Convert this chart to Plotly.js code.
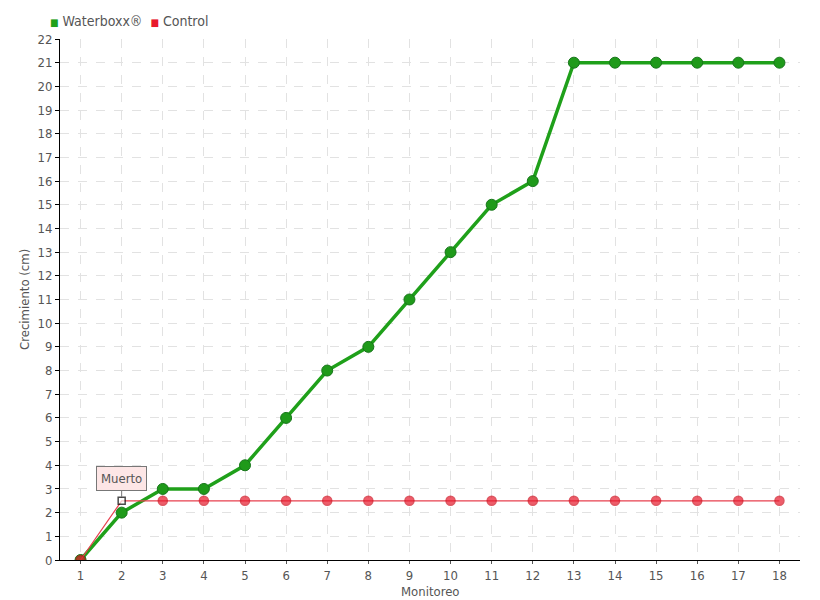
<!DOCTYPE html>
<html>
<head>
<meta charset="utf-8">
<script src="https://cdn.plot.ly/plotly-3.0.1.min.js"></script>
<style>body{margin:0;background:#fff}#chart{width:820px;height:600px}</style>
</head>
<body>
<div id="chart"></div>
<script>
const monitoreo = [1,2,3,4,5,6,7,8,9,10,11,12,13,14,15,16,17,18];
const waterboxx = [0,2,3,3,4,6,8,9,11,13,15,16,21,21,21,21,21,21];
const control = [0,2.5,2.5,2.5,2.5,2.5,2.5,2.5,2.5,2.5,2.5,2.5,2.5,2.5,2.5,2.5,2.5,2.5];
const yTicks = [0,1,2,3,4,5,6,7,8,9,10,11,12,13,14,15,16,17,18,19,20,21,22];
const seriesNames = ['Waterboxx®', 'Control'];
const annotText = "Muerto";
const annotIndex = 1;

const FONT = "'DejaVu Sans Condensed', 'Liberation Sans Narrow', sans-serif";
const GREEN = '#1fa01a', RED = '#e8192c';

const ctrlSymbols = control.map((v,i)=> i===annotIndex ? 'square' : 'circle');
const ctrlColors = control.map((v,i)=> i===annotIndex ? '#ffffff' : RED);
const ctrlLineColors = control.map((v,i)=> i===annotIndex ? '#000000' : '#d0101f');
const ctrlSizes = control.map((v,i)=> i===annotIndex ? 7 : 9);

const traces = [
  {
    x: monitoreo, y: waterboxx, name: seriesNames[0], type: 'scatter', mode: 'lines+markers', showlegend: false,
    line: {color: GREEN, width: 3.5},
    marker: {color: '#1f9a1a', size: 11, line: {color: '#17761a', width: 1}}
  },
  {
    x: monitoreo, y: control, name: seriesNames[1], type: 'scatter', mode: 'lines+markers', showlegend: false,
    line: {color: '#e8404f', width: 1.2},
    marker: {color: ctrlColors, size: ctrlSizes, symbol: ctrlSymbols, line: {color: ctrlLineColors, width: 1.5}}
  }
];

const layout = {
  width: 820, height: 600,
  margin: {l: 60, r: 20, t: 39, b: 40, autoexpand: false},
  paper_bgcolor: '#ffffff', plot_bgcolor: '#ffffff',
  font: {family: FONT, color: '#555555', size: 13},
  showlegend: false,
  xaxis: {
    range: [0.5, 18.5], tickvals: monitoreo, ticktext: monitoreo.map(String),
    showline: true, linecolor: '#000', linewidth: 1,
    ticks: 'outside', ticklen: 3, tickcolor: '#555',
    showgrid: true, gridcolor: '#e2e2e2', griddash: 'dash', gridwidth: 1,
    zeroline: false,
    tickfont: {family: FONT, size: 13, color: '#555'}
  },
  yaxis: {
    range: [0, 22], tickvals: yTicks,
    showline: true, linecolor: '#000', linewidth: 1,
    ticks: 'outside', ticklen: 4, tickcolor: '#000',
    showgrid: true, gridcolor: '#e2e2e2', griddash: 'dash', gridwidth: 1,
    zeroline: false,
    tickfont: {family: FONT, size: 13, color: '#555'}
  },
  annotations: [
    {
      x: monitoreo[annotIndex], y: control[annotIndex], xref: 'x', yref: 'y',
      text: annotText, showarrow: true, arrowhead: 0, arrowwidth: 1, arrowcolor: '#777',
      ax: 0, ay: -22, standoff: 4,
      bgcolor: '#fde6e6', bordercolor: '#777', borderwidth: 1, borderpad: 4,
      font: {family: FONT, size: 13, color: '#555'}
    },
    {
      xref: 'paper', yref: 'paper', x: -0.048, y: 0.5, xanchor: 'center', yanchor: 'middle',
      textangle: -90, showarrow: false, text: 'Crecimiento (cm)',
      font: {family: FONT, size: 13, color: '#555'}
    },
    {
      xref: 'paper', yref: 'paper', x: 0.5, y: -0.06, xanchor: 'center', yanchor: 'middle',
      showarrow: false, text: 'Monitoreo',
      font: {family: FONT, size: 13, color: '#555'}
    },
    {
      xref: 'paper', yref: 'paper', x: -0.0165, y: 1.035, xanchor: 'left', yanchor: 'middle',
      showarrow: false,
      text: "<span style='color:" + GREEN + ";font-size:10px'>■</span> " + seriesNames[0] +
            "  <span style='color:" + RED + ";font-size:10px'>■</span> " + seriesNames[1],
      font: {family: FONT, size: 14, color: '#555'}
    }
  ]
};

Plotly.newPlot('chart', traces, layout, {displayModeBar: false, staticPlot: true});
</script>
</body>
</html>
